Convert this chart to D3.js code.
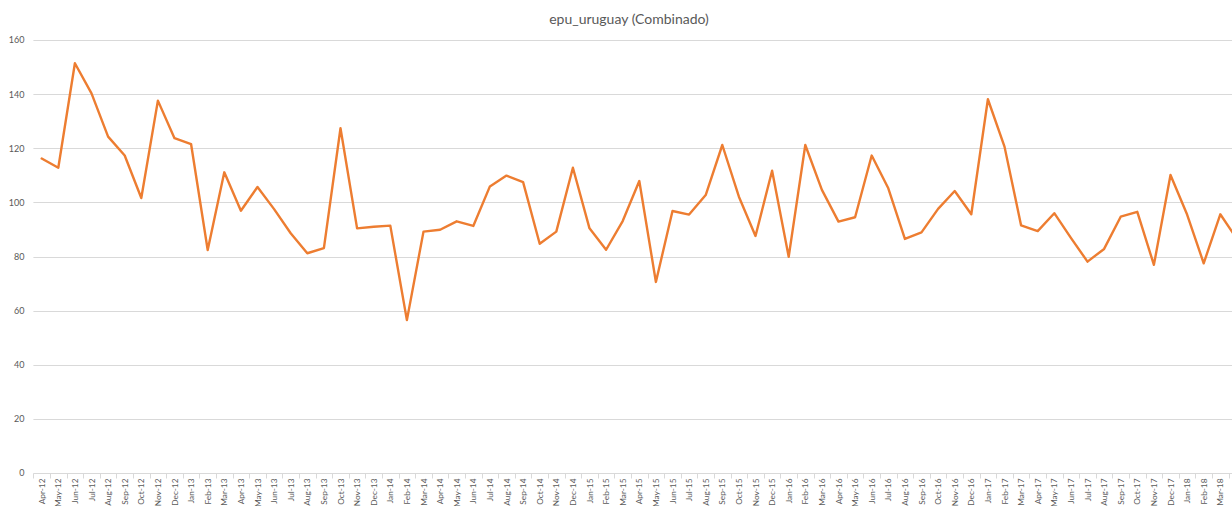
<!DOCTYPE html>
<html>
<head>
<meta charset="utf-8">
<script src="https://cdn.jsdelivr.net/npm/d3@7"></script>
<style>
  html, body { margin: 0; padding: 0; background: #fff; overflow: hidden; }
  svg { display: block; font-family: Lato, "Open Sans", sans-serif; }
</style>
</head>
<body>
<svg id="chart" width="1232" height="506"></svg>
<script>
const title = "epu_uruguay (Combinado)";
const months = [
  "Apr-12","May-12","Jun-12","Jul-12","Aug-12","Sep-12","Oct-12","Nov-12","Dec-12",
  "Jan-13","Feb-13","Mar-13","Apr-13","May-13","Jun-13","Jul-13","Aug-13","Sep-13","Oct-13","Nov-13","Dec-13",
  "Jan-14","Feb-14","Mar-14","Apr-14","May-14","Jun-14","Jul-14","Aug-14","Sep-14","Oct-14","Nov-14","Dec-14",
  "Jan-15","Feb-15","Mar-15","Apr-15","May-15","Jun-15","Jul-15","Aug-15","Sep-15","Oct-15","Nov-15","Dec-15",
  "Jan-16","Feb-16","Mar-16","Apr-16","May-16","Jun-16","Jul-16","Aug-16","Sep-16","Oct-16","Nov-16","Dec-16",
  "Jan-17","Feb-17","Mar-17","Apr-17","May-17","Jun-17","Jul-17","Aug-17","Sep-17","Oct-17","Nov-17","Dec-17",
  "Jan-18","Feb-18","Mar-18","Apr-18"
];
const values = [
  116.2,112.8,151.4,140.3,124.3,117.3,101.6,137.6,123.7,
  121.5,82.4,111.1,96.9,105.7,97.5,88.6,81.2,83.1,127.4,90.4,91.0,
  91.4,56.5,89.2,89.9,93.0,91.3,105.9,109.9,107.5,84.7,89.2,112.8,
  90.4,82.5,93.1,107.9,70.6,96.8,95.5,102.7,121.2,102.1,87.6,111.7,
  79.9,121.2,104.6,92.9,94.5,117.3,105.2,86.5,88.9,97.6,104.2,95.6,
  138.1,120.6,91.5,89.4,96.0,86.9,78.1,82.8,94.7,96.5,76.9,110.1,
  95.5,77.5,95.6,86.5
];
const yTicks = [0,20,40,60,80,100,120,140,160];

const svg = d3.select("#chart");
const W = 1232;
const plotLeft = 33.4, step = 16.6, plotTop = 40, plotBottom = 473;

const x = d3.scaleBand().domain(months).range([plotLeft, plotLeft + step * months.length]).padding(0);
const y = d3.scaleLinear().domain([0, 160]).range([plotBottom, plotTop]);

// gridlines
svg.append("g").selectAll("line").data(yTicks.filter(d => d > 0)).join("line")
  .attr("x1", plotLeft).attr("x2", W)
  .attr("y1", d => Math.round(y(d)) + 0.5).attr("y2", d => Math.round(y(d)) + 0.5)
  .attr("stroke", "#d9d9d9").attr("stroke-width", 1);

// y axis labels
const yAxis = d3.axisLeft(y).tickValues(yTicks).tickSize(0).tickPadding(9);
const gy = svg.append("g").attr("transform", `translate(${plotLeft},0)`).call(yAxis);
gy.select(".domain").remove();
gy.selectAll("text").attr("fill", "#595959").style("font-size", "9px").style("font-family", "Lato, sans-serif");

// x axis
const gx = svg.append("g").attr("transform", `translate(0,${Math.round(plotBottom) + 0.5})`);
gx.append("line").attr("x1", plotLeft).attr("x2", W).attr("stroke", "#d9d9d9");
const bounds = d3.range(months.length + 1).map(i => plotLeft + i * step);
gx.selectAll("line.tk").data(bounds).join("line").attr("class", "tk")
  .attr("x1", d => Math.round(d) + 0.5).attr("x2", d => Math.round(d) + 0.5)
  .attr("y1", 0).attr("y2", 5).attr("stroke", "#d9d9d9");
gx.selectAll("text").data(months).join("text")
  .attr("transform", d => `translate(${x(d) + x.bandwidth() / 2 + 3},5) rotate(-90)`)
  .attr("text-anchor", "end")
  .attr("fill", "#595959")
  .style("font-size", "8.3px")
  .text(d => d);

// line
const line = d3.line()
  .x((d, i) => x(months[i]) + x.bandwidth() / 2)
  .y(d => y(d));
svg.append("path").datum(values)
  .attr("d", line)
  .attr("fill", "none")
  .attr("stroke", "#ed7d31")
  .attr("stroke-width", 2.4)
  .attr("stroke-linejoin", "round")
  .attr("stroke-linecap", "round");

// title
svg.append("text").attr("x", 629).attr("y", 24).attr("text-anchor", "middle")
  .attr("fill", "#595959").style("font-size", "14px").text(title);
</script>
</body>
</html>
